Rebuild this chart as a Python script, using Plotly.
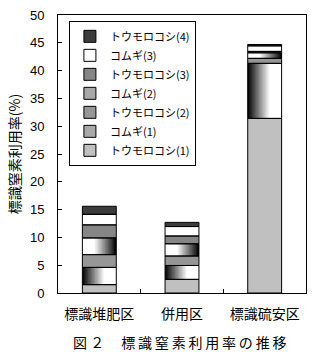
import plotly.graph_objects as go

categories = ["標識堆肥区", "併用区", "標識硫安区"]
series_names = ["トウモロコシ(1)", "コムギ(1)", "トウモロコシ(2)", "コムギ(2)",
                "トウモロコシ(3)", "コムギ(3)", "トウモロコシ(4)"]
corn1 = [1.5, 2.45, 31.4]
wheat1 = [3.1, 2.5, 9.9]
corn2 = [2.3, 1.7, 0.9]
wheat2 = [3.0, 2.2, 1.0]
corn3 = [2.35, 1.4, 0.25]
wheat3 = [1.9, 1.7, 1.0]
corn4 = [1.45, 0.75, 0.25]
y_ticks = [0, 5, 10, 15, 20, 25, 30, 35, 40, 45, 50]

series_values = [corn1, wheat1, corn2, wheat2, corn3, wheat3, corn4]
# style: solid colour or gradient ("left" = dark at left, "right" = dark at right)
styles = [("solid", "#c0c0c0"), ("grad", "left"), ("solid", "#969696"), ("grad", "right"),
          ("solid", "#868686"), ("solid", "#ffffff"), ("solid", "#3c3c3c")]
legend_colors = ["#c0c0c0", "#a8a8a8", "#969696", "#a8a8a8", "#868686", "#ffffff", "#3c3c3c"]

JP = "Noto Sans CJK JP"
bw = 0.41
N = 24

bases = []
acc = [0.0] * len(categories)
for vals in series_values:
    bases.append(list(acc))
    acc = [a + v for a, v in zip(acc, vals)]

fig = go.Figure()

# fills
for vals, base, (kind, spec) in zip(series_values, bases, styles):
    if kind == "solid":
        fig.add_trace(go.Bar(x=categories, y=vals, base=base, width=bw,
                             marker=dict(color=spec, line=dict(width=0)),
                             showlegend=False, hoverinfo="skip"))
    else:
        for i in range(N):
            p = (i + 0.5) / N
            if spec == "right":
                p = 1 - p
            t = min(1.0, p / 0.65)
            g = int(round(255 * t))
            col = f"rgb({g},{g},{g})"
            w = bw / N * (1.6 if i < N - 1 else 1.0)
            fig.add_trace(go.Bar(x=categories, y=vals, base=base, width=w,
                                 offset=-bw / 2 + i * bw / N,
                                 marker=dict(color=col, line=dict(width=0)),
                                 showlegend=False, hoverinfo="skip"))

# outlines
for vals, base in zip(series_values, bases):
    fig.add_trace(go.Bar(x=categories, y=vals, base=base, width=bw,
                         marker=dict(color="rgba(0,0,0,0)", line=dict(color="black", width=1)),
                         showlegend=False, hoverinfo="skip"))

# legend entries (top entry = last series)
for name, col in reversed(list(zip(series_names, legend_colors))):
    fig.add_trace(go.Bar(x=[None], y=[None], name=name,
                         marker=dict(color=col, line=dict(color="black", width=1))))

fig.update_layout(
    width=315, height=362,
    margin=dict(l=58, r=8, t=9, b=69),
    barmode="overlay",
    paper_bgcolor="white", plot_bgcolor="white",
    font=dict(family=JP, color="black", size=12),
    showlegend=True,
    legend=dict(x=0.044, y=0.979, xanchor="left", yanchor="top",
                bordercolor="black", borderwidth=1, bgcolor="white",
                font=dict(family=JP, size=11, color="black"),
                traceorder="normal", itemwidth=30),
    xaxis=dict(showline=True, linecolor="black", linewidth=1, mirror=True,
               ticks="inside", ticklen=4, tickcolor="black", tickson="boundaries",
               tickfont=dict(family=JP, size=14, color="black"),
               ticklabelstandoff=8, showgrid=False, zeroline=False),
    yaxis=dict(range=[0, 50], tickvals=y_ticks, showline=True, linecolor="black",
               linewidth=1, mirror=True, ticks="inside", ticklen=4, tickcolor="black",
               tickfont=dict(family="Liberation Sans", size=13, color="black"),
               ticklabelstandoff=10, showgrid=False, zeroline=False,
               title=dict(text="標識窒素利用率(%)", font=dict(family=JP, size=14),
                          standoff=6)),
    annotations=[dict(text="図 ２\u3000 標\u2009識\u2009窒\u2009素\u2009利\u2009用\u2009率\u2009の\u2009推\u2009移",
                      x=0.49, y=-0.176, xref="paper", yref="paper",
                      xanchor="center", yanchor="middle", showarrow=False,
                      font=dict(family=JP, size=14, color="black"))],
)

fig.write_html("out.html", config={"displayModeBar": False})
